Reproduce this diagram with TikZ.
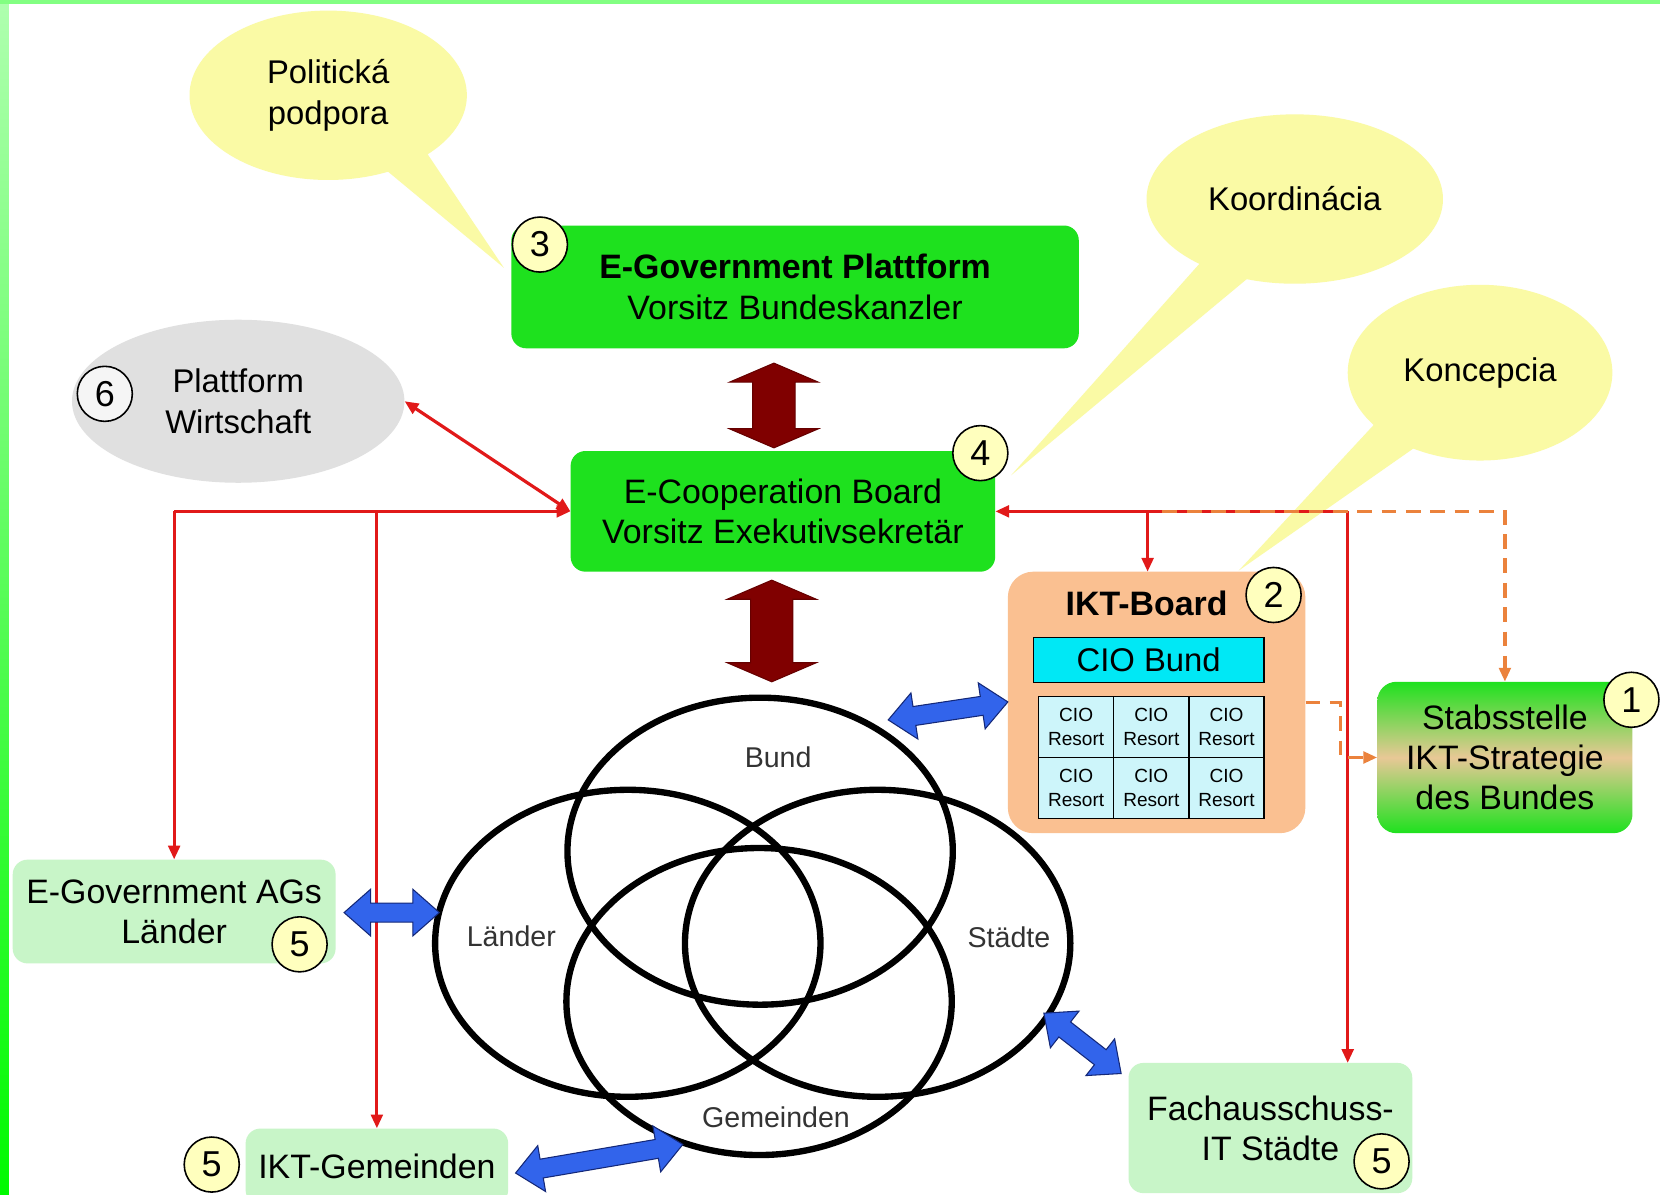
\documentclass[tikz,border=0pt]{standalone}
\usepackage{fontspec}
\setmainfont{Liberation Sans}
\usetikzlibrary{shapes.geometric,arrows.meta,calc}
\definecolor{gB}{RGB}{30,225,30}
\definecolor{gPale}{RGB}{200,245,200}
\definecolor{peachC}{RGB}{250,192,145}
\definecolor{cyanC}{RGB}{0,232,245}
\definecolor{cyanL}{RGB}{205,245,250}
\definecolor{bubY}{RGB}{250,250,165}
\definecolor{numY}{RGB}{255,255,190}
\definecolor{redC}{RGB}{225,25,25}
\definecolor{orC}{RGB}{235,130,60}
\definecolor{maroonC}{RGB}{128,0,0}
\definecolor{blueC}{RGB}{50,100,235}
\definecolor{navyC}{RGB}{20,40,120}
\definecolor{tanC}{RGB}{232,200,150}
\definecolor{bandL}{RGB}{175,255,175}
\definecolor{bandD}{RGB}{0,250,0}
\definecolor{bandT}{RGB}{130,255,130}
% fat double arrow: #1 style, #2 start, #3 end, #4 head length, #5 shaft half width, #6 head half width
\newcommand{\fatarr}[6]{%
 \filldraw[#1] (#2) -- ($(#2)!#4!(#3)!#6!90:(#3)$) -- ($(#2)!#4!(#3)!#5!90:(#3)$)
 -- ($(#3)!#4!(#2)!#5!-90:(#2)$) -- ($(#3)!#4!(#2)!#6!-90:(#2)$) -- (#3)
 -- ($(#3)!#4!(#2)!#6!90:(#2)$) -- ($(#3)!#4!(#2)!#5!90:(#2)$)
 -- ($(#2)!#4!(#3)!#5!-90:(#3)$) -- ($(#2)!#4!(#3)!#6!-90:(#3)$) -- cycle;}
\begin{document}
\begin{tikzpicture}[x=1pt,y=-1pt,
 gbox/.style={rectangle, rounded corners=14pt, fill=gB, align=center, inner sep=0pt, font=\fontsize{32pt}{38pt}\selectfont},
 pbox/.style={rectangle, rounded corners=14pt, fill=gPale, align=center, inner sep=0pt, font=\fontsize{32pt}{38pt}\selectfont},
 bubble/.style={ellipse, fill=bubY, inner sep=0pt, align=center, font=\fontsize{31pt}{39pt}\selectfont},
 numc/.style={circle, draw=black, line width=1.5pt, fill=numY, minimum size=52pt, inner sep=0pt, font=\fontsize{34pt}{34pt}\selectfont},
 cell/.style={rectangle, draw=black, line width=1.2pt, fill=cyanL, minimum width=71pt, minimum height=57.5pt, inner sep=0pt, align=center, font=\fontsize{18pt}{22pt}\selectfont},
 venn/.style={ellipse, draw=black, line width=6pt, minimum width=364pt, minimum height=290pt, inner sep=0pt},
 vlab/.style={font=\fontsize{27pt}{27pt}\selectfont, text=black!80, inner sep=0pt},
 redc/.style={draw=redC, line width=3pt, -{Triangle[length=13pt,width=11pt]}},
 redd/.style={draw=redC, line width=3pt, {Triangle[length=13pt,width=11pt]}-{Triangle[length=13pt,width=11pt]}},
 orc/.style={draw=orC, line width=3pt, dash pattern=on 14pt off 9pt, -{Triangle[length=13pt,width=11pt]}},
 bluearr/.style={fill=blueC, draw=navyC, line width=1pt},
 darkarr/.style={fill=maroonC, draw=maroonC!80!black, line width=1pt}]
\useasboundingbox (0,0) rectangle (1568,1128);
\fill[white] (0,0) rectangle (1568,1128);
\clip (0,0) rectangle (1568,1128);
\shade[top color=bandL, bottom color=bandD] (0,0) rectangle (8.5,1128);
\fill[bandT] (0,0) rectangle (1568,4);

% speech bubbles
\fill[bubY] (329,131) -- (476,253) -- (384,116) -- cycle;
\node[bubble, minimum width=262pt, minimum height=160pt] (pol) at (310,90) {Politická\\podpora};
\fill[bubY] (1150,230) -- (955,449) -- (1200,245) -- cycle;
\node[bubble, minimum width=280pt, minimum height=160pt] (koord) at (1223,188) {Koordinácia};
\fill[bubY] (1335,361) -- (1170,539) -- (1386,388) -- cycle;
\node[bubble, minimum width=250pt, minimum height=166pt] (konz) at (1398,352) {Koncepcia};

% Plattform Wirtschaft
\node[ellipse, fill=black!12, minimum width=314pt, minimum height=154pt, inner sep=0pt, align=center, font=\fontsize{31pt}{38pt}\selectfont] (pw) at (225,379) {Plattform\\Wirtschaft};

% main boxes
\node[gbox, minimum width=536pt, minimum height=116pt] (egov) at (751,271) {\textbf{E-Government Plattform}\\Vorsitz Bundeskanzler};
\node[gbox, minimum width=401pt, minimum height=114pt] (ecoop) at (739.5,483) {E-Cooperation Board\\Vorsitz Exekutivsekretär};

% IKT-Board
\node[rectangle, rounded corners=24pt, fill=peachC, minimum width=281pt, minimum height=247pt] (ikt) at (1092.5,663.5) {};
\node[font=\fontsize{32pt}{32pt}\selectfont\bfseries, inner sep=0pt] (iktt) at (1083,570) {IKT-Board};
\node[rectangle, fill=cyanC, draw=black, line width=1.2pt, minimum width=218pt, minimum height=43pt, inner sep=0pt, font=\fontsize{31pt}{31pt}\selectfont] (ciob) at (1085,623.5) {CIO Bund};
\node[cell] (c11) at (1016.5,686.75) {CIO\\Resort};
\node[cell] (c12) at (1087.5,686.75) {CIO\\Resort};
\node[cell] (c13) at (1158.5,686.75) {CIO\\Resort};
\node[cell] (c21) at (1016.5,744.25) {CIO\\Resort};
\node[cell] (c22) at (1087.5,744.25) {CIO\\Resort};
\node[cell] (c23) at (1158.5,744.25) {CIO\\Resort};

% Stabsstelle
\node[rectangle, rounded corners=18pt, top color=gB, bottom color=gB, middle color=tanC, minimum width=241pt, minimum height=143pt, align=center, inner sep=0pt, font=\fontsize{32pt}{38pt}\selectfont] (stab) at (1421.5,715.5) {Stabsstelle\\IKT-Strategie\\des Bundes};

% pale boxes
\node[pbox, minimum width=305pt, minimum height=98pt] (agsl) at (164.5,861) {E-Government AGs\\Länder};
\node[pbox, minimum width=248pt, minimum height=72pt] (iktg) at (356,1102) {IKT-Gemeinden};
\node[pbox, minimum width=268pt, minimum height=123pt] (fach) at (1200,1065.5) {Fachausschuss-\\IT Städte};

% Venn
\node[venn] (vbund) at (718,804) {};
\node[venn] (vland) at (593,891) {};
\node[venn] (vstad) at (829,891) {};
\node[venn] (vgem) at (717,946) {};
\node[vlab] (lbund) at (735,715) {Bund};
\node[vlab] (lland) at (483,884) {Länder};
\node[vlab] (lstad) at (953,885) {Städte};
\node[vlab] (lgem) at (733,1055) {Gemeinden};

% red connectors
\coordinate (iktin) at (1084,540);
\coordinate (fachin) at (1273,1004);
\coordinate (odash) at (1098,483);
\draw[redd] (pw.east) -- (ecoop.west);
\draw[redc] (agsl.north |- ecoop.west) -- (ecoop.west);
\draw[redc] (agsl.north |- ecoop.west) -- (agsl.north);
\draw[redc] (iktg.north |- ecoop.west) -- (iktg.north);
\draw[redc] (fachin |- ecoop.east) -- (ecoop.east);
\draw[redc] (iktin |- ecoop.east) -- (iktin);
\draw[redc] (fachin |- ecoop.east) -- (fachin);
% orange dashed
\draw[orc] (odash) -- (stab.north |- odash) -- (stab.north);
\draw[orc] (ikt.east) -- ++(33,0) |- (stab.west);

% fat arrows
\coordinate (da1) at (731,343); \coordinate (da2) at (731,423);
\coordinate (da3) at (729,548); \coordinate (da4) at (729,644);
\fatarr{darkarr}{da1}{da2}{18pt}{20pt}{42pt}
\fatarr{darkarr}{da3}{da4}{18pt}{20pt}{42pt}
\coordinate (ba1) at (839,680); \coordinate (ba2) at (952,663);
\coordinate (ba3) at (325,862); \coordinate (ba4) at (415,862);
\coordinate (ba5) at (487,1108); \coordinate (ba6) at (645,1081);
\coordinate (ba7) at (986,957); \coordinate (ba8) at (1059,1014);
\fatarr{bluearr}{ba1}{ba2}{25pt}{9pt}{22pt}
\fatarr{bluearr}{ba3}{ba4}{25pt}{9pt}{22pt}
\fatarr{bluearr}{ba5}{ba6}{25pt}{9pt}{22pt}
\fatarr{bluearr}{ba7}{ba8}{25pt}{9pt}{22pt}

% number circles
\node[numc] (n3) at (510,231) {3};
\node[numc] (n4) at (926,428) {4};
\node[numc] (n2) at (1203,562) {2};
\node[numc] (n1) at (1541,661) {1};
\node[numc, fill=black!4] (n6) at (99,372) {6};
\node[numc] (n5a) at (283,892) {5};
\node[numc] (n5b) at (200,1100) {5};
\node[numc] (n5c) at (1305,1097) {5};
\end{tikzpicture}
\end{document}
